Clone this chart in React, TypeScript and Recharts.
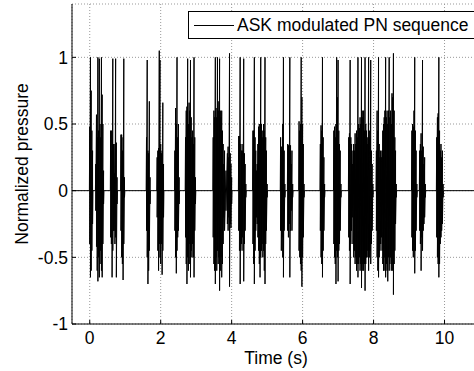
import React from 'react';
import { LineChart, Line, XAxis, YAxis, CartesianGrid, Legend } from 'recharts';

// Burst rows: [time (s), upper peak, lower peak]
const burst01 = [[0.00,0.48,-0.40],[0.02,1.00,-0.65],[0.04,0.75,-0.60],[0.06,0.45,-0.45],[0.08,0.30,-0.25]];
const burst02 = [[0.17,0.20,-0.15],[0.19,0.57,-0.42],[0.21,0.40,-0.60],[0.23,1.00,-0.68],[0.25,0.45,-0.50],[0.27,0.99,-0.65],[0.29,0.50,-0.55],[0.31,0.40,-0.45],[0.33,1.00,-0.60],[0.35,0.72,-0.65],[0.37,0.50,-0.40],[0.39,0.15,-0.10]];
const burst03 = [[0.59,0.45,-0.35],[0.61,0.45,-0.40],[0.63,0.30,-0.65],[0.65,0.99,-0.45],[0.67,0.35,-0.30],[0.69,0.13,-0.30],[0.71,0.35,-0.40],[0.73,0.99,-0.35],[0.75,0.36,-0.65],[0.77,0.10,-0.10]];
const burst04 = [[0.88,0.42,-0.30],[0.90,0.42,-0.50],[0.92,0.30,-0.55],[0.94,0.40,-0.67],[0.96,0.99,-0.40],[0.98,0.10,-0.05]];
const burst05 = [[1.60,0.40,-0.30],[1.62,0.98,-0.50],[1.64,0.30,-0.70],[1.66,0.28,-0.60],[1.68,0.67,-0.45],[1.70,0.10,-0.10]];
const burst06 = [[1.90,0.25,-0.20],[1.92,0.30,-0.45],[1.94,0.32,-0.60],[1.96,1.05,-0.40],[1.98,0.98,-0.50],[2.00,0.35,-0.55],[2.02,0.28,-0.40],[2.04,0.30,-0.63],[2.06,0.66,-0.45],[2.08,0.20,-0.20]];
const burst07 = [[2.40,0.30,-0.30],[2.42,0.62,-0.50],[2.44,0.50,-0.62],[2.46,1.00,-0.45],[2.48,0.40,-0.35],[2.50,0.50,-0.30],[2.52,0.10,-0.10]];
const burst08 = [[2.70,0.40,-0.35],[2.72,0.60,-0.55],[2.74,0.63,-0.70],[2.76,0.99,-0.50],[2.78,0.50,-0.60],[2.80,0.66,-0.40],[2.82,0.60,-0.55],[2.84,0.98,-0.65],[2.86,0.55,-0.45],[2.88,0.40,-0.50],[2.90,0.45,-0.40],[2.92,0.35,-0.50],[2.94,1.00,-0.65],[2.96,0.40,-0.30],[2.98,0.10,-0.10]];
const burst09 = [[3.48,0.40,-0.35],[3.50,0.60,-0.55],[3.52,0.55,-0.60],[3.54,1.00,-0.70],[3.56,0.62,-0.50],[3.58,0.55,-0.60],[3.60,1.00,-0.45],[3.62,0.60,-0.55],[3.64,0.67,-0.50],[3.66,0.99,-0.75],[3.68,0.60,-0.60],[3.70,0.55,-0.50],[3.72,0.60,-0.65],[3.74,0.45,-0.55],[3.76,0.35,-0.40],[3.78,0.20,-0.20],[3.80,0.30,-0.30],[3.84,0.15,-0.15],[3.88,0.28,-0.25],[3.90,0.33,-0.30],[3.92,0.25,-0.20],[3.94,1.03,-0.72],[3.96,0.28,-0.25],[3.98,0.20,-0.28],[4.00,0.10,-0.10]];
const burst10 = [[4.20,0.41,-0.30],[4.22,0.41,-0.45],[4.24,1.00,-0.70],[4.26,0.35,-0.45],[4.28,0.30,-0.40],[4.30,0.30,-0.35],[4.32,0.35,-0.45],[4.34,0.99,-0.68],[4.36,0.28,-0.40],[4.38,0.20,-0.30],[4.40,0.05,-0.05]];
const burst11 = [[4.60,0.45,-0.40],[4.62,0.45,-0.55],[4.64,1.00,-0.70],[4.66,0.40,-0.45],[4.68,0.30,-0.30],[4.70,0.15,-0.20],[4.72,0.20,-0.25],[4.74,0.35,-0.35],[4.76,0.48,-0.45],[4.78,0.50,-0.55],[4.80,0.45,-0.65],[4.82,1.00,-0.50],[4.84,0.50,-0.45],[4.86,0.40,-0.40],[4.88,0.45,-0.50],[4.90,0.50,-0.45],[4.92,0.45,-0.60],[4.94,1.00,-0.70],[4.96,0.40,-0.40],[4.98,0.30,-0.30],[5.00,0.05,-0.05]];
const burst12 = [[5.38,0.40,-0.30],[5.40,0.33,-0.45],[5.42,0.30,-0.35],[5.44,0.50,-0.50],[5.46,1.00,-0.65],[5.48,0.30,-0.30],[5.50,0.05,-0.05]];
const burst13 = [[5.58,0.35,-0.30],[5.60,0.34,-0.35],[5.62,0.30,-0.25],[5.64,1.00,-0.65],[5.66,0.34,-0.30],[5.68,0.20,-0.15],[5.70,0.30,-0.30],[5.72,0.05,-0.05]];
const burst14 = [[5.90,0.52,-0.45],[5.92,0.45,-0.50],[5.94,0.50,-0.55],[5.96,1.00,-0.60],[5.98,0.70,-0.72],[6.00,0.50,-0.50],[6.02,0.35,-0.35],[6.04,0.05,-0.05]];
const burst15 = [[6.50,0.35,-0.30],[6.52,0.49,-0.50],[6.54,0.45,-0.55],[6.56,1.00,-0.65],[6.58,0.40,-0.45],[6.60,0.25,-0.30],[6.62,0.05,-0.05]];
const burst16 = [[6.88,0.45,-0.40],[6.90,0.48,-0.50],[6.92,0.40,-0.55],[6.94,0.50,-0.70],[6.96,1.00,-0.45],[6.98,0.70,-0.50],[7.00,0.98,-0.68],[7.02,0.45,-0.45],[7.04,0.35,-0.40],[7.06,0.30,-0.30],[7.08,0.05,-0.05]];
const burst17 = [[7.30,0.40,-0.35],[7.32,0.43,-0.45],[7.34,0.98,-0.70],[7.36,0.40,-0.40],[7.38,0.35,-0.30],[7.40,0.20,-0.20],[7.42,0.30,-0.40],[7.44,0.35,-0.50],[7.46,0.30,-0.45],[7.48,0.43,-0.55],[7.50,0.35,-0.50],[7.52,0.45,-0.60],[7.54,0.40,-0.55],[7.56,1.00,-0.65],[7.58,0.50,-0.55],[7.60,0.47,-0.50],[7.62,0.55,-0.60],[7.64,0.50,-0.55],[7.66,1.00,-0.73],[7.68,0.60,-0.60],[7.70,0.55,-0.55],[7.72,0.60,-0.60],[7.74,0.45,-0.55],[7.76,1.00,-0.75],[7.78,0.50,-0.55],[7.80,0.45,-0.50],[7.82,0.35,-0.45],[7.84,0.40,-0.50],[7.86,1.00,-0.60],[7.88,0.45,-0.50],[7.90,0.40,-0.45],[7.92,0.98,-0.55],[7.94,0.30,-0.40],[7.96,0.20,-0.30],[7.98,0.05,-0.05]];
const burst18 = [[8.08,0.30,-0.30],[8.10,0.60,-0.50],[8.12,0.45,-0.60],[8.14,1.00,-0.65],[8.16,0.35,-0.50],[8.18,0.25,-0.45],[8.20,0.30,-0.40],[8.22,0.25,-0.35],[8.24,0.30,-0.45],[8.26,0.45,-0.55],[8.28,0.50,-0.60],[8.30,0.55,-0.50],[8.32,0.60,-0.60],[8.34,1.00,-0.65],[8.36,0.55,-0.55],[8.38,0.60,-0.60],[8.40,0.50,-0.68],[8.42,0.60,-0.50],[8.44,1.00,-0.60],[8.46,0.55,-0.55],[8.48,0.60,-0.50],[8.50,0.50,-0.60],[8.52,0.73,-0.55],[8.54,0.70,-0.60],[8.56,1.03,-0.78],[8.58,0.60,-0.55],[8.60,0.40,-0.45],[8.62,0.30,-0.25],[8.64,0.05,-0.05]];
const burst19 = [[9.08,0.45,-0.35],[9.10,0.50,-0.45],[9.12,0.48,-0.50],[9.14,0.60,-0.45],[9.16,1.00,-0.62],[9.18,0.45,-0.45],[9.20,0.30,-0.30],[9.22,0.05,-0.05]];
const burst20 = [[9.30,0.30,-0.30],[9.32,0.35,-0.40],[9.34,0.43,-0.60],[9.36,0.30,-0.35],[9.38,0.98,-0.45],[9.40,0.33,-0.30],[9.42,0.20,-0.25],[9.44,0.25,-0.20],[9.46,0.05,-0.05]];
const burst21 = [[9.78,0.40,-0.35],[9.80,0.55,-0.50],[9.82,0.58,-0.55],[9.84,1.00,-0.65],[9.86,0.45,-0.55],[9.88,0.30,-0.40],[9.90,0.35,-0.35],[9.92,0.25,-0.30],[9.94,0.30,-0.25],[9.96,0.05,-0.05]];

const bursts = [burst01, burst02, burst03, burst04, burst05, burst06, burst07, burst08, burst09, burst10, burst11, burst12, burst13, burst14, burst15, burst16, burst17, burst18, burst19, burst20, burst21];

const timeRange = [-0.5, 11];
const xTicks = [0, 2, 4, 6, 8, 10];
const yTicks = [-1, -0.5, 0, 0.5, 1];
const seriesName = 'ASK modulated PN sequence';

const data: { t: number; y: number }[] = [{ t: timeRange[0], y: 0 }];
bursts.forEach((b) => {
  data.push({ t: b[0][0] - 0.01, y: 0 });
  b.forEach(([t, hi, lo]) => {
    data.push({ t, y: hi });
    data.push({ t, y: lo });
  });
  data.push({ t: b[b.length - 1][0] + 0.01, y: 0 });
});
data.push({ t: timeRange[1], y: 0 });

const FONT = '"Liberation Sans", Arial, Helvetica, sans-serif';
const FS = 17.5;

const LegendBox = () => (
  <div
    style={{
      boxSizing: 'border-box',
      width: 300,
      height: 28,
      border: '1px solid #000',
      background: '#fff',
      display: 'flex',
      alignItems: 'center',
      fontFamily: FONT,
      fontSize: FS,
      color: '#000',
    }}
  >
    <svg width={48} height={26} style={{ display: 'block' }}>
      <line x1={5} x2={45} y1={13.5} y2={13.5} stroke="#000" strokeWidth={1} />
    </svg>
    <span style={{ whiteSpace: 'nowrap', marginLeft: 0 }}>{seriesName}</span>
  </div>
);

export default function App() {
  return (
    <div style={{ position: 'absolute', left: 0, top: 0, width: 474, height: 371, overflow: 'hidden', background: '#fff' }}>
      <LineChart
        width={500}
        height={371}
        data={data}
        margin={{ top: 4, right: 20, bottom: 0, left: 0 }}
        style={{ fontFamily: FONT }}
      >
        <CartesianGrid stroke="#999" strokeDasharray="1 2" strokeWidth={1} />
        <XAxis
          dataKey="t"
          type="number"
          domain={timeRange}
          ticks={xTicks}
          allowDataOverflow
          height={47}
          stroke="#000"
          tickSize={-4}
          tickMargin={12}
          tick={{ fill: '#000', fontSize: FS, fontFamily: FONT }}
          label={{ value: 'Time (s)', position: 'insideBottom', offset: 7, fill: '#000', fontSize: FS, fontFamily: FONT }}
        />
        <XAxis
          xAxisId="top"
          orientation="top"
          dataKey="t"
          type="number"
          domain={timeRange}
          ticks={xTicks}
          allowDataOverflow
          height={0}
          stroke="#000"
          tickSize={-4}
          tick={false}
        />
        <YAxis
          type="number"
          domain={[-1, 1.4]}
          ticks={yTicks}
          allowDataOverflow
          width={72}
          stroke="#000"
          tickSize={-4}
          tickMargin={8}
          tick={{ fill: '#000', fontSize: FS, fontFamily: FONT }}
          label={{ value: 'Normalized pressure', angle: -90, position: 'insideLeft', offset: 22, dy: 0, fill: '#000', fontSize: FS, fontFamily: FONT, style: { textAnchor: 'middle' } }}
        />
        <Legend
          layout="horizontal"
          verticalAlign="middle"
          align="center"
          content={() => <LegendBox />}
          wrapperStyle={{ position: 'absolute', left: 188, top: 11, width: 300, height: 28 }}
        />
        <Line
          dataKey="y"
          name={seriesName}
          type="linear"
          stroke="#000"
          strokeWidth={1}
          dot={false}
          activeDot={false}
          isAnimationActive={false}
        />
      </LineChart>
    </div>
  );
}
